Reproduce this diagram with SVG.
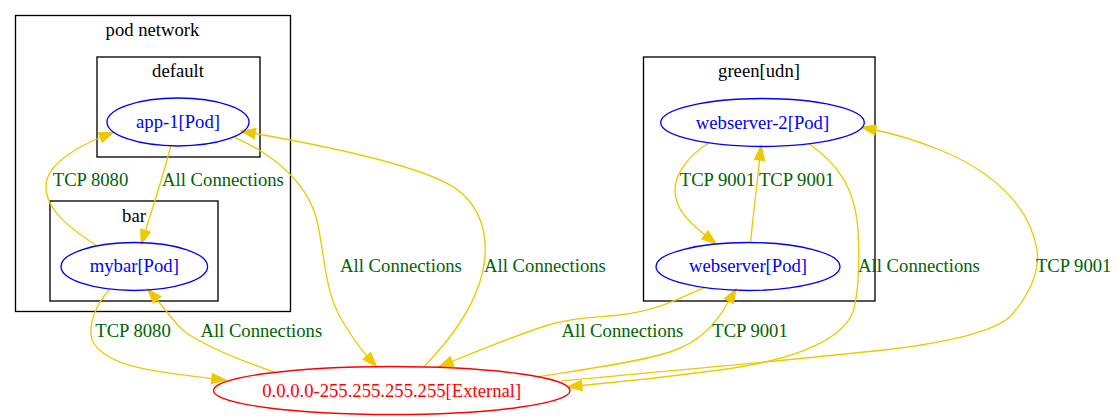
<svg xmlns="http://www.w3.org/2000/svg" width="1119" height="420" viewBox="0 0 1119 420">
<style>
text{font-family:"Liberation Serif","Times New Roman",serif;font-size:18.67px;text-anchor:middle}
.cl{fill:none;stroke:#000;stroke-width:1.33}
.ct{fill:#000}
.pod{fill:none;stroke:#0000ff;stroke-width:1.33}
.pt{fill:#0000ff}
.ext{fill:none;stroke:#ff0000;stroke-width:1.33}
.et{fill:#ff0000}
.e{fill:none;stroke:#eec900;stroke-width:1.33;marker-end:url(#arr)}
.lb{fill:#006400}
</style>
<defs>
<marker id="arr" markerUnits="userSpaceOnUse" markerWidth="16" markerHeight="12" viewBox="-1 -1 15.33 11.33" refX="0" refY="4.67" orient="auto" overflow="visible">
<path d="M0,0 L13.33,4.67 L0,9.33 Z" fill="#eec900" stroke="#eec900" stroke-width="1.33"/>
</marker>
</defs>
<rect width="1119" height="420" fill="#fff"/>
<g id="cluster-pod-network">
<rect class="cl" x="15.5" y="15.5" width="275" height="296"/>
<text class="ct" x="152.5" y="36">pod network</text>
</g>
<g id="cluster-default">
<rect class="cl" x="97" y="57" width="163" height="100"/>
<text class="ct" x="178" y="77.3">default</text>
</g>
<g id="cluster-bar">
<rect class="cl" x="50" y="201" width="168" height="100"/>
<text class="ct" x="134" y="221.7">bar</text>
</g>
<g id="cluster-green">
<rect class="cl" x="643.5" y="57" width="231.5" height="244"/>
<text class="ct" x="759" y="77.3">green[udn]</text>
</g>
<g id="connectors">
<path class="e" d="M170.7,146 C165,170 155,200 145.5,230.6"/>
<text class="lb" x="223" y="186">All Connections</text>
<path class="e" d="M96.7,245.7 C70,228 45,210 46,185 C47,165 75,148 100.5,137.5"/>
<text class="lb" x="90.5" y="186">TCP 8080</text>
<path class="e" d="M110,289.3 C95,305 88,325 92,340 C105,368 160,372 212,378.5"/>
<text class="lb" x="133" y="337">TCP 8080</text>
<path class="e" d="M275,372.3 C245,362 205,346 185,332 C175,324 166,310 157,299.7"/>
<text class="lb" x="261.3" y="337">All Connections</text>
<path class="e" d="M235,137.7 C275,155 310,185 318,225 C326,265 325,295 345,325 C352,337 358,346 367,356"/>
<text class="lb" x="401" y="272">All Connections</text>
<path class="e" d="M424,366.7 C445,345 475,310 483,270 C490,235 480,205 455,188 C420,165 320,145 255,133.5"/>
<text class="lb" x="545" y="272">All Connections</text>
<path class="e" d="M705,287.3 C680,298 660,310 620,315 C590,318 570,318 545,326 C515,336 480,350 452,361.5"/>
<text class="lb" x="622.5" y="337">All Connections</text>
<path class="e" d="M538.3,376.7 C580,370 640,362 670,352 C700,342 715,325 729,301"/>
<text class="lb" x="750" y="337">TCP 9001</text>
<path class="e" d="M708.3,143.3 C690,155 675,172 675,190 C675,207 685,219 705,235"/>
<text class="lb" x="717.5" y="186">TCP 9001</text>
<path class="e" d="M750.7,241.7 C753,215 757,185 759.6,159.9"/>
<text class="lb" x="796.7" y="186">TCP 9001</text>
<path class="e" d="M808.3,143.3 C835,162 855,185 858,230 C860,270 858,295 853,312 C840,345 780,362 720,370 C660,378 620,382 581.7,385.5"/>
<text class="lb" x="919" y="272">All Connections</text>
<path class="e" d="M561,381 C650,372 800,360 900,348 C960,340 995,330 1010,316.7 C1030,295 1040,270 1037,250 C1030,205 990,170 940,150 C915,140 895,134 875.5,130"/>
<text class="lb" x="1073.7" y="272">TCP 9001</text>
</g>
<g id="node-app-1">
<ellipse class="pod" cx="178" cy="122" rx="71" ry="24"/>
<text class="pt" x="178" y="128.3">app-1[Pod]</text>
</g>
<g id="node-mybar">
<ellipse class="pod" cx="134.3" cy="266.5" rx="73.3" ry="24"/>
<text class="pt" x="134.3" y="272">mybar[Pod]</text>
</g>
<g id="node-webserver-2">
<ellipse class="pod" cx="762.5" cy="122.5" rx="101.8" ry="24"/>
<text class="pt" x="762.5" y="128.5">webserver-2[Pod]</text>
</g>
<g id="node-webserver">
<ellipse class="pod" cx="748" cy="266.5" rx="92" ry="24"/>
<text class="pt" x="748" y="272">webserver[Pod]</text>
</g>
<g id="node-external">
<ellipse class="ext" cx="391.7" cy="390.5" rx="178.3" ry="24"/>
<text class="et" x="391.7" y="396.7">0.0.0.0-255.255.255.255[External]</text>
</g>
</svg>
